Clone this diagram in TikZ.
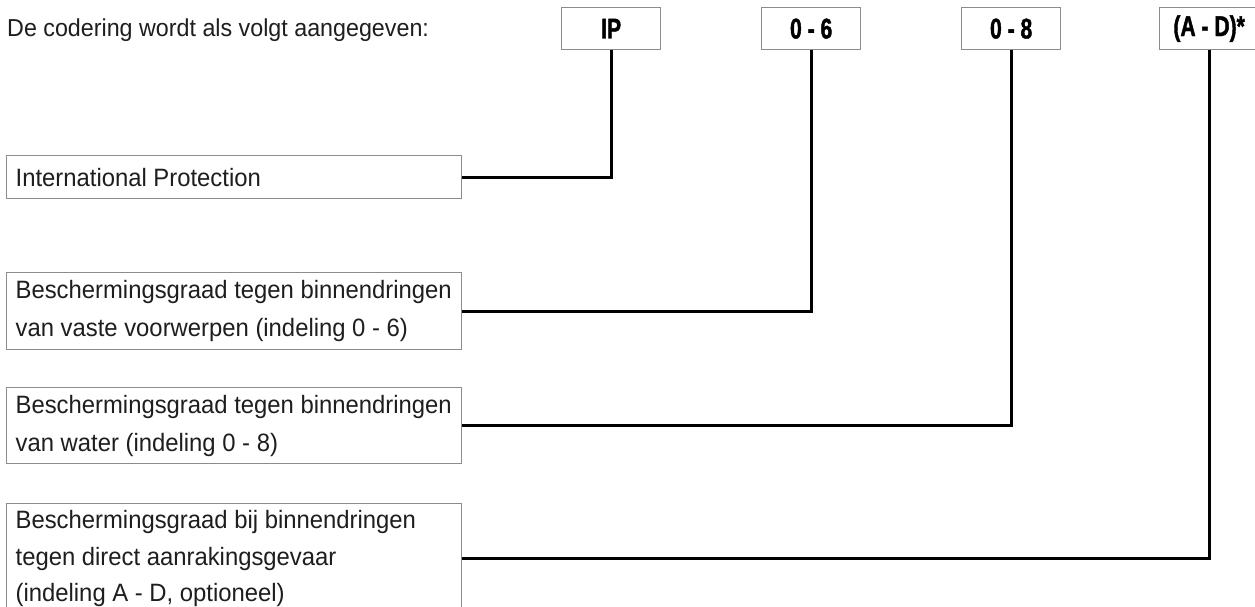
\documentclass[tikz,border=0pt]{standalone}
\usepackage{fontspec}
\setmainfont{Liberation Sans}[FakeStretch=0.95]
\newfontfamily\condfont[FakeStretch=0.74,FakeBold=1.4]{Liberation Sans}
\definecolor{boxgray}{HTML}{8C8C8C}
\definecolor{txt}{HTML}{1E1E1E}
\begin{document}
\begin{tikzpicture}[x=1pt,y=-1pt,
  labelbox/.style={draw=boxgray, line width=1.3pt, rectangle, anchor=north west,
    text width=437pt, inner xsep=9pt, inner ysep=0pt,
    align=flush left, text=txt, font=\fontsize{25.1}{38}\selectfont},
  codebox/.style={draw=boxgray, line width=1.3pt, rectangle, anchor=north west,
    minimum width=99pt, minimum height=42pt, inner sep=0pt, text=black,
    font=\condfont\bfseries\fontsize{28.5}{30}\selectfont},
  conn/.style={draw=black, line width=3pt}]
\useasboundingbox (0,0) rectangle (1255,607);
\fill[white] (0,0) rectangle (1255,607);

\node[anchor=base west, text=txt, inner sep=0pt, font=\fontsize{24.5}{38}\selectfont]
  (title) at (7,37) {De codering wordt als volgt aangegeven:};

\node[codebox] (ip) at (561,7) {IP};
\node[codebox] (c06) at (761,7) {0 - 6};
\node[codebox] (c08) at (961,7) {0 - 8};
\node[codebox] (cad) at (1159,7) {(A - D)*};

\node[labelbox, minimum height=43pt] (l1) at (6,155) {\mbox{International Protection}};
\node[labelbox, minimum height=77pt] (l2) at (6,272) {\mbox{Beschermingsgraad tegen binnendringen}\\\mbox{van vaste voorwerpen (indeling 0 - 6)}};
\node[labelbox, minimum height=76pt] (l3) at (6,387) {\mbox{Beschermingsgraad tegen binnendringen}\\\mbox{van water (indeling 0 - 8)}};
\node[labelbox, minimum height=110pt, font=\fontsize{25.1}{36.5}\selectfont] (l4) at (6,503) {\mbox{Beschermingsgraad bij binnendringen}\\\mbox{tegen direct aanrakingsgevaar}\\\mbox{(indeling A - D, optioneel)}};

\draw[conn] (ip.south) |- (l1.east);
\draw[conn] (c06.south) |- (l2.east);
\draw[conn] (c08.south) |- (l3.east);
\draw[conn] (cad.south) |- (l4.east);
\end{tikzpicture}
\end{document}
